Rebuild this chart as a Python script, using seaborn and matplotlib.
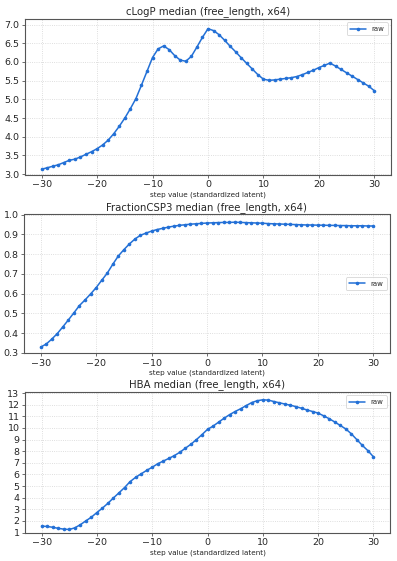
import numpy as np
import pandas as pd
import seaborn as sns
import matplotlib.pyplot as plt
from matplotlib.ticker import MultipleLocator

# step values along the standardized latent
steps = list(range(-30, 31))

clogp = [3.13, 3.17, 3.21, 3.25, 3.31, 3.37, 3.40, 3.46, 3.53, 3.60,
         3.68, 3.78, 3.91, 4.08, 4.28, 4.50, 4.75, 5.02, 5.38, 5.75,
         6.12, 6.35, 6.43, 6.33, 6.17, 6.05, 6.02, 6.15, 6.40, 6.66,
         6.89, 6.84, 6.73, 6.58, 6.42, 6.27, 6.11, 5.96, 5.81, 5.66,
         5.54, 5.51, 5.52, 5.54, 5.56, 5.58, 5.61, 5.66, 5.72, 5.78,
         5.85, 5.91, 5.97, 5.89, 5.80, 5.71, 5.62, 5.53, 5.44, 5.35, 5.23]

fsp3 = [0.330, 0.345, 0.370, 0.398, 0.432, 0.467, 0.503, 0.540, 0.568, 0.598,
        0.630, 0.667, 0.703, 0.748, 0.790, 0.822, 0.851, 0.876, 0.895, 0.906,
        0.916, 0.924, 0.930, 0.936, 0.941, 0.945, 0.948, 0.951, 0.953, 0.955,
        0.957, 0.958, 0.959, 0.960, 0.960, 0.961, 0.960, 0.959, 0.958, 0.957,
        0.956, 0.954, 0.953, 0.952, 0.951, 0.950, 0.949, 0.948, 0.947, 0.947,
        0.946, 0.946, 0.945, 0.945, 0.944, 0.944, 0.943, 0.943, 0.943, 0.942, 0.942]

hba = [1.55, 1.52, 1.45, 1.36, 1.29, 1.26, 1.40, 1.67, 2.00, 2.32,
       2.72, 3.10, 3.52, 3.98, 4.42, 4.87, 5.38, 5.75, 6.05, 6.35,
       6.62, 6.92, 7.15, 7.38, 7.62, 7.91, 8.26, 8.60, 9.00, 9.43,
       9.88, 10.16, 10.50, 10.84, 11.15, 11.42, 11.66, 11.93, 12.19, 12.35,
       12.43, 12.40, 12.28, 12.17, 12.06, 11.96, 11.84, 11.70, 11.55, 11.42,
       11.28, 11.05, 10.80, 10.52, 10.22, 9.92, 9.50, 9.00, 8.50, 8.05, 7.52]

titles = ["cLogP median (free_length, x64)",
          "FractionCSP3 median (free_length, x64)",
          "HBA median (free_length, x64)"]

sns.set_style("whitegrid")
plt.rcParams['font.family'] = ['DejaVu Sans']

fig = plt.figure(figsize=(3.97, 5.61), dpi=100)
# axes boxes in figure fractions (left, bottom, width, height)
boxes = [(25/397, 1-174.5/561, 366/397, 155.5/561),
         (24/397, 1-353/561, 366/397, 138.5/561),
         (25/397, 1-532.5/561, 365/397, 140.5/561)]
ylims = [(2.99, 7.15), (0.3, 1.0), (1.0, 13.1)]
ysteps = [0.5, 0.1, 1]
legend_locs = ["upper right", "center right", "upper right"]

line_color = "#2370d6"

for i, (vals, title) in enumerate(zip([clogp, fsp3, hba], titles)):
    ax = fig.add_axes(boxes[i])
    df = pd.DataFrame({"step": steps, "value": vals})
    sns.lineplot(data=df, x="step", y="value", ax=ax, color=line_color,
                 marker="o", markersize=2.6, markeredgewidth=0, linewidth=1.1,
                 label="raw")
    ax.set_ylim(*ylims[i])
    ax.yaxis.set_major_locator(MultipleLocator(ysteps[i]))
    ax.xaxis.set_major_locator(MultipleLocator(10))
    if i == 1:
        ax.yaxis.set_major_formatter(plt.FormatStrFormatter('%.1f'))
    ax.grid(True, linestyle=":", color="#d4d4d4", linewidth=0.6)
    for sp in ax.spines.values():
        sp.set_color("#555555")
        sp.set_linewidth(0.8)
    ax.tick_params(axis="both", labelsize=6.8, length=2.5, width=0.6,
                   color="#555555", pad=1.5, left=True, bottom=True)
    ax.set_title(title, fontsize=7.3, pad=3.5)
    ax.set_xlabel("step value (standardized latent)", fontsize=5.2, labelpad=1.5)
    ax.set_ylabel("")
    leg = ax.legend(loc=legend_locs[i], fontsize=5, frameon=True,
                    handlelength=2.2, borderpad=0.5)
    leg.get_frame().set_edgecolor("#cccccc")
    leg.get_frame().set_linewidth(0.6)

fig.savefig("out.png", dpi=100, facecolor="white")
